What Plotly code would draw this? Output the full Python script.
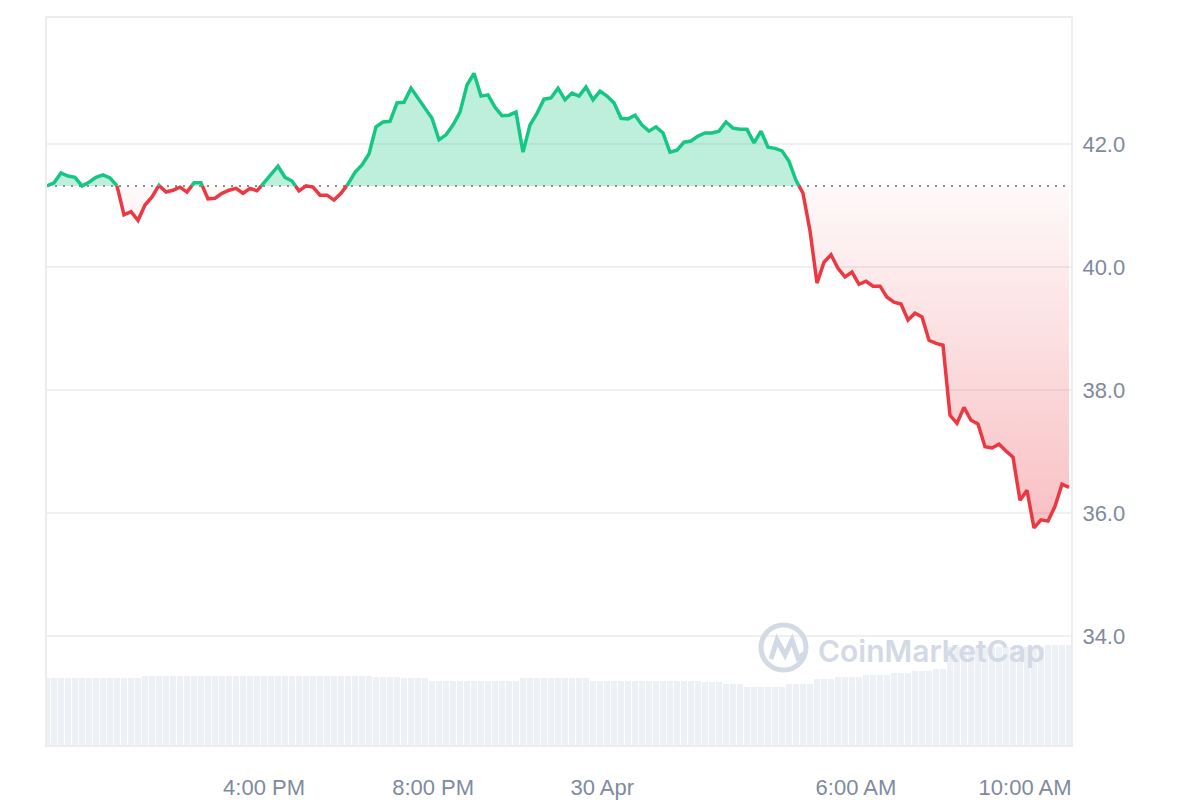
import numpy as np
import pandas as pd
import plotly.graph_objects as go

# ---------------- data ----------------
FIRST_TIME = "2024-04-29 10:52:00"
LAST_TIME = "2024-04-30 11:02:20"

price = [
    41.32, 41.37, 41.53, 41.48, 41.46, 41.32, 41.38, 41.46, 41.50, 41.45,
    41.32, 40.85, 40.90, 40.76, 41.01, 41.14, 41.33, 41.22, 41.25, 41.30,
    41.22, 41.37, 41.37, 41.11, 41.12, 41.20, 41.25, 41.28, 41.20, 41.28,
    41.24, 41.37, 41.50, 41.64, 41.46, 41.40, 41.24, 41.32, 41.30, 41.17,
    41.17, 41.09, 41.20, 41.35, 41.54, 41.66, 41.84, 42.28, 42.36, 42.37,
    42.67, 42.68, 42.91, 42.75, 42.59, 42.42, 42.07, 42.15, 42.31, 42.52,
    42.96, 43.15, 42.78, 42.80, 42.60, 42.46, 42.47, 42.52, 41.87, 42.31,
    42.50, 42.73, 42.75, 42.91, 42.72, 42.83, 42.78, 42.93, 42.72, 42.86,
    42.78, 42.67, 42.42, 42.41, 42.47, 42.31, 42.21, 42.28, 42.18, 41.87,
    41.90, 42.03, 42.05, 42.13, 42.18, 42.18, 42.21, 42.36, 42.26, 42.24,
    42.24, 42.02, 42.21, 41.95, 41.93, 41.89, 41.72, 41.41, 41.20, 40.59,
    39.74, 40.08, 40.20, 39.98, 39.84, 39.92, 39.72, 39.77, 39.69, 39.69,
    39.51, 39.43, 39.40, 39.14, 39.25, 39.19, 38.81, 38.76, 38.73, 37.59,
    37.46, 37.72, 37.51, 37.45, 37.08, 37.06, 37.12, 37.01, 36.91, 36.21,
    36.37, 35.76, 35.89, 35.87, 36.11, 36.47, 36.42,
]

volume = [
    6.7, 6.7, 6.7, 6.7, 6.7, 6.7, 6.7, 6.7, 6.7, 6.7, 6.7, 6.7, 6.7, 6.7,
    6.9, 6.9, 6.9, 6.9, 6.9, 6.9, 6.9, 6.9, 6.9, 6.9, 6.9, 6.9, 6.9, 6.9,
    6.9, 6.9, 6.9, 6.9, 6.9, 6.9, 6.9, 6.9, 6.9, 6.9, 6.9, 6.9, 6.9, 6.9,
    6.9, 6.9, 6.9, 6.9, 6.9,
    6.8, 6.8, 6.8, 6.8,
    6.7, 6.7, 6.7, 6.7,
    6.4, 6.4, 6.4, 6.4, 6.4, 6.4, 6.4, 6.4, 6.4, 6.4, 6.4, 6.4, 6.4,
    6.7, 6.7, 6.7, 6.7, 6.7, 6.7, 6.7, 6.7, 6.7, 6.7,
    6.4, 6.4, 6.4, 6.4, 6.4, 6.4, 6.4, 6.4, 6.4, 6.4, 6.4, 6.4, 6.4, 6.4, 6.4, 6.4,
    6.3, 6.3, 6.3,
    6.1, 6.1, 6.1,
    5.8, 5.8, 5.8, 5.8, 5.8, 5.8,
    6.1, 6.1, 6.1, 6.1,
    6.6, 6.6, 6.6,
    6.8, 6.8, 6.8, 6.8,
    7.0, 7.0, 7.0, 7.0,
    7.2, 7.2, 7.2,
    7.4, 7.4, 7.4,
    7.6, 7.6,
    9.8, 9.8, 9.8, 9.8, 9.8, 9.8, 9.8, 9.8, 9.8, 9.8, 9.8, 9.8, 9.8, 9.8,
    10.0, 10.0, 10.0, 10.0,
]

tick_times = ["2024-04-29 16:00", "2024-04-29 20:00", "2024-04-30 00:00",
              "2024-04-30 06:00", "2024-04-30 10:00"]
tick_labels = ["4:00 PM", "8:00 PM", "30 Apr", "6:00 AM", "10:00 AM"]
price_ticks = [34, 36, 38, 40, 42]
x_range = ["2024-04-29 10:52:00", "2024-04-30 11:05:10"]
price_range = [32.23, 44.05]
volume_range = [0, 72.7]

# ---------------- styling ----------------
GREEN = "#16c784"
RED = "#ea3943"
LABEL = "#808a9d"
GRID = "#eef0f3"
WM = "#d3d9e5"
FONT = "Liberation Sans, Arial, sans-serif"

times = pd.date_range(FIRST_TIME, LAST_TIME, periods=len(price))
base = price[0]

# insert baseline-crossing points so colours switch exactly at the baseline
xs, ys = [], []
for i in range(len(price)):
    if i > 0:
        p0, p1 = price[i - 1], price[i]
        if (p0 - base) * (p1 - base) < 0:
            f = (base - p0) / (p1 - p0)
            xs.append(times[i - 1] + (times[i] - times[i - 1]) * f)
            ys.append(base)
    xs.append(times[i])
    ys.append(price[i])
ys = np.array(ys, dtype=float)
up_line = np.where(ys >= base, ys, np.nan)
dn_line = np.where(ys <= base, ys, np.nan)
up_fill = np.maximum(ys, base)
dn_fill = np.minimum(ys, base)
base_arr = np.full(len(ys), base)

fig = go.Figure()

# volume bars (secondary hidden axis)
fig.add_trace(go.Bar(x=times, y=volume, yaxis="y2", marker=dict(color="#edf0f4", line=dict(width=0)),
                     hoverinfo="skip", showlegend=False))

# green fill
fig.add_trace(go.Scatter(x=xs, y=base_arr, mode="lines", line=dict(width=0), hoverinfo="skip", showlegend=False))
fig.add_trace(go.Scatter(x=xs, y=up_fill, mode="lines", line=dict(width=0), fill="tonexty",
                         fillcolor="rgba(22,199,132,0.28)", hoverinfo="skip", showlegend=False))
# red gradient fill
fig.add_trace(go.Scatter(x=xs, y=base_arr, mode="lines", line=dict(width=0), hoverinfo="skip", showlegend=False))
fig.add_trace(go.Scatter(x=xs, y=dn_fill, mode="lines", line=dict(width=0), fill="tonexty",
                         fillgradient=dict(type="vertical",
                                           colorscale=[[0, "rgba(234,57,67,0.32)"], [1, "rgba(234,57,67,0.03)"]]),
                         hoverinfo="skip", showlegend=False))
# dotted baseline
fig.add_trace(go.Scatter(x=[x_range[0], x_range[1]], y=[base, base], mode="lines",
                         line=dict(color="#8e8e8e", width=2, dash="2px,6px"),
                         hoverinfo="skip", showlegend=False))
# price lines
fig.add_trace(go.Scatter(x=xs, y=up_line, mode="lines", line=dict(color=GREEN, width=3.5),
                         hoverinfo="skip", showlegend=False))
fig.add_trace(go.Scatter(x=xs, y=dn_line, mode="lines", line=dict(color=RED, width=3.5),
                         hoverinfo="skip", showlegend=False))


def px(xp, yp):
    # screen pixel -> paper coordinates of the plot area (47..1071, 18..745)
    return (xp - 47) / 1024.0, (745 - yp) / 727.0


# watermark logo (circle + wave) and text
cx0, cy0 = px(761, 625)
cx1, cy1 = px(806, 670)
fig.add_shape(type="circle", xref="paper", yref="paper", x0=cx0, y0=cy1, x1=cx1, y1=cy0,
              line=dict(color=WM, width=5), layer="above")
pts = [(771, 659), (777, 640), (785, 655), (792, 640), (798, 658), (805, 653)]
path = ""
for j, (a, b) in enumerate(pts):
    u, v = px(a, b)
    path += ("M" if j == 0 else "L") + f"{u:.5f},{v:.5f} "
fig.add_shape(type="path", xref="paper", yref="paper", path=path,
              line=dict(color=WM, width=5), layer="above")
tx, ty = px(931, 651)
fig.add_annotation(xref="paper", yref="paper", x=tx, y=ty, xanchor="center", yanchor="middle",
                   text="CoinMarketCap", showarrow=False,
                   font=dict(family="Inter, Open Sans, sans-serif", size=30, color=WM, weight=600))

# the page body adds an 8px offset, margins compensate so the plot area sits at 47..1071 x 18..745
fig.update_layout(
    width=1200, height=800,
    margin=dict(l=39, r=137, t=10, b=63, autoexpand=False),
    paper_bgcolor="white", plot_bgcolor="white",
    font=dict(family=FONT, size=22, color=LABEL),
    bargap=0.12,
    hovermode=False,
    showlegend=False,
    xaxis=dict(type="date", range=x_range, tickvals=tick_times, ticktext=tick_labels, automargin=False,
               showgrid=False, zeroline=False, showline=True, mirror=True, linecolor="#ececec", linewidth=2,
               ticks="", ticklabelstandoff=22, tickfont=dict(family=FONT, size=22, color=LABEL)),
    yaxis=dict(side="right", range=price_range, tickvals=price_ticks, tickformat=".1f", automargin=False,
               showgrid=True, gridcolor=GRID, gridwidth=2, zeroline=False,
               showline=True, mirror=True, linecolor="#ececec", linewidth=2,
               ticks="", ticklabelstandoff=5, tickfont=dict(family=FONT, size=22, color=LABEL)),
    yaxis2=dict(overlaying="y", range=volume_range, visible=False, showgrid=False),
)

fig.write_html("out.html", config={"displayModeBar": False})
